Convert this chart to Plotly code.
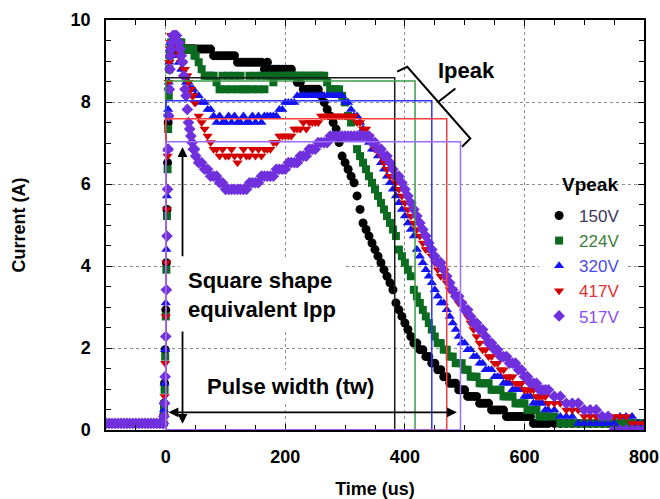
import plotly.graph_objects as go

# ---------------- data ----------------
time_us = (list(range(-100, -4, 5)) + list(range(-4, 10)) + list(range(10, 50, 2))
           + list(range(50, 645, 5)) + list(range(650, 801, 10)))

series_names = ["150V", "224V", "320V", "417V", "517V"]

i_150 = [
    0.16, 0.16, 0.16, 0.16, 0.16, 0.16, 0.16, 0.16, 0.16, 0.16, 0.16, 0.16, 0.16, 0.16, 0.16, 0.16, 0.16, 0.16, 0.16, 0.16,
    0.33, 0.65, 1.14, 1.96, 2.93, 4.08, 5.38, 6.52, 7.50, 8.31, 8.80, 9.13, 9.29, 9.29,
    9.29, 9.29, 9.29, 9.29, 9.29, 9.29, 9.29, 9.29, 9.29, 9.29, 9.29, 9.29, 9.29, 9.29, 9.29, 9.29, 9.29, 9.29, 9.29, 9.29,
    9.29, 9.29, 9.29, 9.29, 9.29, 9.29, 9.13, 9.13, 9.13, 9.13, 9.13, 9.13,
    9.13, 9.13, 8.97, 8.97, 8.97, 8.97, 8.97, 8.97, 8.97, 8.97, 8.97, 8.80, 8.97, 8.80, 8.80, 8.80, 8.80, 8.80, 8.80, 8.80,
    8.80, 8.64, 8.48, 8.48, 8.31, 8.31, 8.31, 8.31, 8.31, 8.31, 8.15, 7.99, 7.82, 7.66, 7.50, 7.34, 7.01, 6.68, 6.52, 6.36,
    6.19, 6.03, 5.71, 5.38, 5.05, 4.89, 4.73, 4.56, 4.40, 4.24, 4.08, 3.91, 3.75, 3.59, 3.42, 3.10, 2.93, 2.77, 2.61, 2.45,
    2.28, 2.12, 2.12, 1.96, 1.96, 1.79, 1.79, 1.63, 1.63, 1.47, 1.47, 1.30, 1.30, 1.14, 1.14, 1.14, 0.98, 0.98, 0.98, 0.82,
    0.82, 0.82, 0.82, 0.65, 0.65, 0.65, 0.65, 0.49, 0.49, 0.49, 0.49, 0.49, 0.33, 0.33, 0.33, 0.33, 0.33, 0.33, 0.33, 0.33,
    0.33, 0.16, 0.16, 0.16, 0.16, 0.16, 0.16,
    0.16, 0.16, 0.16, 0.16, 0.16, 0.16, 0.16, 0.16, 0.16, 0.16, 0.16, 0.16, 0.16, 0.16, 0.16, 0.16,
]

i_224 = [
    0.16, 0.16, 0.16, 0.16, 0.16, 0.16, 0.16, 0.16, 0.16, 0.16, 0.16, 0.16, 0.16, 0.16, 0.16, 0.16, 0.16, 0.16, 0.16, 0.16,
    0.16, 0.49, 0.98, 1.79, 2.77, 3.91, 5.22, 6.36, 7.34, 8.15, 8.80, 9.13, 9.29, 9.45,
    9.45, 9.45, 9.45, 9.45, 9.45, 9.45, 9.45, 9.45, 9.45, 9.29, 9.29, 9.29, 9.29, 9.29, 9.29, 9.29, 9.29, 9.29, 9.29, 9.13,
    9.13, 8.97, 8.80, 8.64, 8.64, 8.64, 8.64, 8.48, 8.31, 8.64, 8.31, 8.64,
    8.31, 8.64, 8.31, 8.64, 8.31, 8.31, 8.64, 8.31, 8.64, 8.31, 8.64, 8.31, 8.64, 8.64, 8.48, 8.64, 8.64, 8.64, 8.64, 8.64,
    8.64, 8.64, 8.64, 8.64, 8.64, 8.64, 8.64, 8.64, 8.64, 8.64, 8.64, 8.64, 8.48, 8.31, 8.31, 8.31, 8.31, 8.15, 7.99, 7.66,
    7.50, 7.17, 6.85, 6.68, 6.52, 6.36, 6.19, 6.03, 5.87, 5.71, 5.54, 5.38, 5.22, 5.05, 4.89, 4.73, 4.40, 4.24, 4.08, 3.91,
    3.75, 3.42, 3.26, 3.10, 2.93, 2.77, 2.61, 2.45, 2.28, 2.12, 2.12, 1.96, 1.96, 1.79, 1.79, 1.63, 1.63, 1.63, 1.47, 1.47,
    1.30, 1.30, 1.30, 1.14, 1.14, 1.14, 1.14, 0.98, 0.98, 0.98, 0.98, 0.82, 0.82, 0.82, 0.82, 0.65, 0.65, 0.65, 0.65, 0.49,
    0.49, 0.49, 0.49, 0.33, 0.33, 0.33, 0.33,
    0.33, 0.16, 0.16, 0.16, 0.16, 0.16, 0.16, 0.16, 0.16, 0.16, 0.16, 0.16, 0.16, 0.16, 0.16, 0.16,
]

i_320 = [
    0.16, 0.16, 0.16, 0.16, 0.16, 0.16, 0.16, 0.16, 0.16, 0.16, 0.16, 0.16, 0.16, 0.16, 0.16, 0.16, 0.16, 0.16, 0.16, 0.16,
    0.16, 0.49, 1.14, 1.96, 3.10, 4.40, 5.71, 6.85, 7.82, 8.48, 8.97, 9.29, 9.45, 9.45,
    9.45, 9.45, 9.29, 9.29, 9.13, 9.13, 8.97, 8.97, 8.80, 8.80, 8.64, 8.64, 8.48, 8.48, 8.48, 8.31, 8.31, 8.31, 8.31, 8.15,
    8.15, 8.15, 7.99, 7.99, 7.82, 7.82, 7.66, 7.50, 7.66, 7.50, 7.50, 7.66,
    7.50, 7.66, 7.50, 7.50, 7.66, 7.50, 7.50, 7.66, 7.50, 7.66, 7.50, 7.66, 7.66, 7.66, 7.66, 7.66, 7.82, 7.82, 7.99, 7.99,
    7.99, 7.99, 8.15, 8.15, 8.15, 8.15, 8.15, 8.15, 8.15, 8.15, 8.15, 8.15, 8.15, 8.15, 8.15, 8.15, 8.15, 8.15, 7.99, 7.99,
    7.82, 7.66, 7.66, 7.50, 7.34, 7.17, 7.01, 6.85, 6.85, 6.68, 6.52, 6.36, 6.19, 6.03, 5.87, 5.71, 5.54, 5.38, 5.22, 5.05,
    4.89, 4.73, 4.40, 4.24, 4.08, 3.91, 3.75, 3.59, 3.42, 3.26, 3.10, 3.10, 2.93, 2.77, 2.61, 2.45, 2.28, 2.12, 2.12, 1.96,
    1.96, 1.79, 1.79, 1.63, 1.63, 1.47, 1.47, 1.47, 1.30, 1.30, 1.30, 1.14, 1.14, 1.14, 0.98, 0.98, 0.98, 0.98, 0.82, 0.82,
    0.82, 0.65, 0.65, 0.65, 0.65, 0.49, 0.49,
    0.49, 0.33, 0.33, 0.33, 0.16, 0.16, 0.16, 0.16, 0.16, 0.16, 0.16, 0.33, 0.33, 0.33, 0.16, 0.16,
]

i_417 = [
    0.16, 0.16, 0.16, 0.16, 0.16, 0.16, 0.16, 0.16, 0.16, 0.16, 0.16, 0.16, 0.16, 0.16, 0.16, 0.16, 0.16, 0.16, 0.16, 0.16,
    0.16, 0.33, 0.82, 1.63, 2.77, 4.08, 5.38, 6.68, 7.66, 8.48, 8.97, 9.29, 9.45, 9.62,
    9.62, 9.62, 9.45, 9.45, 9.29, 9.29, 9.13, 9.13, 8.97, 8.97, 8.80, 8.80, 8.64, 8.64, 8.48, 8.31, 8.31, 8.15, 8.15, 7.99,
    7.99, 7.66, 7.50, 7.34, 7.17, 7.01, 6.85, 6.85, 6.68, 6.85, 6.68, 6.68,
    6.85, 6.68, 6.52, 6.68, 6.85, 6.68, 6.68, 6.85, 6.68, 6.85, 6.68, 6.85, 6.85, 6.85, 7.01, 7.01, 7.17, 7.17, 7.17, 7.17,
    7.17, 7.34, 7.34, 7.34, 7.50, 7.34, 7.50, 7.50, 7.50, 7.50, 7.66, 7.66, 7.66, 7.66, 7.66, 7.66, 7.66, 7.66, 7.66, 7.66,
    7.66, 7.66, 7.50, 7.50, 7.34, 7.34, 7.17, 7.01, 6.85, 6.85, 6.68, 6.52, 6.36, 6.19, 6.19, 6.03, 5.87, 5.71, 5.54, 5.38,
    5.22, 5.05, 4.89, 4.73, 4.56, 4.40, 4.40, 4.24, 4.08, 3.91, 3.75, 3.75, 3.59, 3.42, 3.42, 3.26, 3.10, 3.10, 2.93, 2.77,
    2.61, 2.45, 2.28, 2.12, 1.96, 1.96, 1.79, 1.79, 1.63, 1.63, 1.47, 1.47, 1.30, 1.30, 1.30, 1.14, 1.14, 1.14, 0.98, 0.98,
    0.98, 0.98, 0.82, 0.82, 0.82, 0.82, 0.65,
    0.65, 0.65, 0.49, 0.49, 0.49, 0.33, 0.33, 0.33, 0.33, 0.33, 0.33, 0.33, 0.33, 0.16, 0.16, 0.16,
]

i_517 = [
    0.16, 0.16, 0.16, 0.16, 0.16, 0.16, 0.16, 0.16, 0.16, 0.16, 0.16, 0.16, 0.16, 0.16, 0.16, 0.16, 0.16, 0.16, 0.16, 0.16,
    0.16, 0.33, 0.65, 1.30, 2.28, 3.42, 4.73, 5.87, 6.85, 7.66, 8.31, 8.80, 9.13, 9.29,
    9.45, 9.62, 9.62, 9.62, 9.62, 9.45, 9.45, 9.29, 9.13, 8.97, 8.64, 8.31, 8.15, 7.82, 7.50, 7.34, 7.17, 7.01, 6.85, 6.85,
    6.68, 6.52, 6.52, 6.36, 6.36, 6.19, 6.19, 6.19, 6.03, 6.03, 5.87, 5.87,
    5.87, 5.87, 5.87, 5.87, 5.87, 5.87, 6.03, 6.03, 6.03, 6.03, 6.19, 6.19, 6.19, 6.19, 6.19, 6.36, 6.36, 6.36, 6.36, 6.52,
    6.52, 6.52, 6.52, 6.68, 6.68, 6.68, 6.85, 6.85, 6.85, 7.01, 7.01, 7.01, 7.01, 7.17, 7.17, 7.17, 7.17, 7.17, 7.17, 7.17,
    7.17, 7.17, 7.17, 7.17, 7.17, 7.17, 7.17, 7.01, 7.01, 6.85, 6.85, 6.68, 6.68, 6.52, 6.36, 6.19, 6.19, 6.03, 5.87, 5.71,
    5.54, 5.38, 5.22, 5.05, 4.89, 4.73, 4.56, 4.40, 4.24, 4.08, 4.08, 3.91, 3.75, 3.59, 3.42, 3.26, 3.26, 3.10, 2.93, 2.93,
    2.77, 2.61, 2.61, 2.45, 2.45, 2.28, 2.12, 2.12, 1.96, 1.96, 1.79, 1.79, 1.79, 1.63, 1.63, 1.63, 1.47, 1.47, 1.30, 1.30,
    1.14, 1.14, 1.14, 0.98, 0.98, 0.98, 0.98,
    0.82, 0.82, 0.65, 0.65, 0.65, 0.49, 0.49, 0.49, 0.33, 0.33, 0.00, 0.00, 0.00, 0.00, 0.00, 0.00,
]

# square-shape equivalent pulses: peak current (A) and pulse width (us)
ipp_A = [8.59, 8.51, 8.03, 7.59, 7.03]
tw_us = [383, 417, 445, 470, 493]

# ---------------- styles ----------------
marker_colors = ["#000000", "#0b6b1f", "#1414f0", "#d40000", "#7030dd"]
rect_colors = ["#1a1a1a", "#3f9a4c", "#3333ff", "#ff3c3c", "#9e6cff"]
label_colors = ["#3e3560", "#3d7d3d", "#4a4aee", "#e03030", "#8a4cf0"]
symbols = ["circle", "square", "triangle-up", "triangle-down", "diamond"]
sizes = [9, 8, 9, 9, 9]
FONT = "Liberation Sans, Arial, sans-serif"

currents = [i_150, i_224, i_320, i_417, i_517]
for c in currents:
    assert len(c) == len(time_us), (len(c), len(time_us))

fig = go.Figure()
for name, y, col, lcol, sym, sz in zip(series_names, currents, marker_colors,
                                         label_colors, symbols, sizes):
    fig.add_trace(go.Scatter(
        x=time_us, y=y, mode="markers", name=f'<span style="color:{lcol}">{name}</span>',
        marker=dict(symbol=sym, size=sz, color=col, line=dict(width=0)),
    ))

# square-shape equivalent rectangles
for ipp, tw, col in zip(ipp_A, tw_us, rect_colors):
    fig.add_shape(type="rect", xref="x", yref="y", x0=0, x1=tw, y0=0, y1=ipp,
                  line=dict(color=col, width=1.5), layer="above")

# Ipeak bracket
fig.add_shape(type="path", xref="x", yref="y", layer="above",
              path="M 387 8.74 L 404 8.86 L 509.5 7.11 L 495.5 6.91",
              line=dict(color="black", width=2))
fig.add_shape(type="line", xref="x", yref="y", layer="above",
              x0=456.7, y0=8.01, x1=484.5, y1=8.33,
              line=dict(color="black", width=2))

ann_font = dict(family=FONT, size=22, color="black", weight="bold")
fig.add_annotation(x=503, y=8.78, xref="x", yref="y", text="Ipeak",
                   xanchor="center", showarrow=False, font=ann_font)
fig.add_annotation(x=22, y=3.29, xref="x", yref="y", xanchor="left",
                   text="Square shape<br>equivalent Ipp", align="left",
                   showarrow=False, font=ann_font, bgcolor="white", borderpad=8)
fig.add_annotation(x=208, y=1.05, xref="x", yref="y", xanchor="center",
                   text="Pulse width (tw)", showarrow=False, font=ann_font,
                   bgcolor="white", borderpad=4)

# arrows
arrow_style = dict(showarrow=True, arrowhead=2, arrowsize=1.1, arrowwidth=1.8,
                   arrowcolor="black", text="", axref="x", ayref="y",
                   xref="x", yref="y", standoff=0, startstandoff=0)
fig.add_annotation(x=28, y=6.9, ax=28, ay=4.2, **arrow_style)
fig.add_annotation(x=28, y=0.15, ax=28, ay=2.44, **arrow_style)
fig.add_annotation(x=487, y=0.43, ax=2, ay=0.43, arrowside="end+start", **arrow_style)

# legend title
fig.add_annotation(x=0.8996, y=0.60, xref="paper", yref="paper", text="Vpeak",
                   xanchor="center", yanchor="middle", showarrow=False,
                   font=dict(family=FONT, size=19, color="black", weight="bold"))

axis_common = dict(
    showline=True, linecolor="black", linewidth=1.5, mirror="ticks",
    ticks="inside", ticklen=6, tickwidth=1.2, tickcolor="black",
    showgrid=True, gridcolor="#8a8a8a", griddash="dot", gridwidth=1,
    zeroline=False, automargin=False,
    tickfont=dict(family=FONT, size=18, color="black", weight="bold"),
)

fig.update_xaxes(range=[-100, 800], dtick=200, tick0=0,
                 minor=dict(dtick=50, ticks="inside", ticklen=5, tickcolor="black",
                            showgrid=False),
                 ticklabelstandoff=10,
                 title=dict(text="Time (us)", standoff=16,
                            font=dict(family=FONT, size=18, color="black", weight="bold")),
                 **axis_common)
fig.update_yaxes(range=[0, 10], dtick=2, tick0=0,
                 minor=dict(dtick=0.5, ticks="inside", ticklen=5, tickcolor="black",
                            showgrid=False),
                 ticklabelstandoff=10,
                 title=dict(text="Current (A)", standoff=40,
                            font=dict(family=FONT, size=18, color="black", weight="bold")),
                 **axis_common)

fig.update_layout(
    width=660, height=499,
    margin=dict(l=106, r=16, t=20, b=69),
    paper_bgcolor="white", plot_bgcolor="white",
    font=dict(family=FONT),
    showlegend=True,
    legend=dict(x=0.805, y=0.566, xanchor="left", yanchor="top",
                bgcolor="white", borderwidth=0,
                font=dict(family=FONT, size=17), tracegroupgap=0,
                itemsizing="trace", itemwidth=30),
)

# remove the default page margin so the 660x499 figure fills the window exactly
fig.write_html("out.html", config={"displayModeBar": False},
               post_script="document.body.style.margin='0px';"
                           "document.body.style.overflow='hidden';")
